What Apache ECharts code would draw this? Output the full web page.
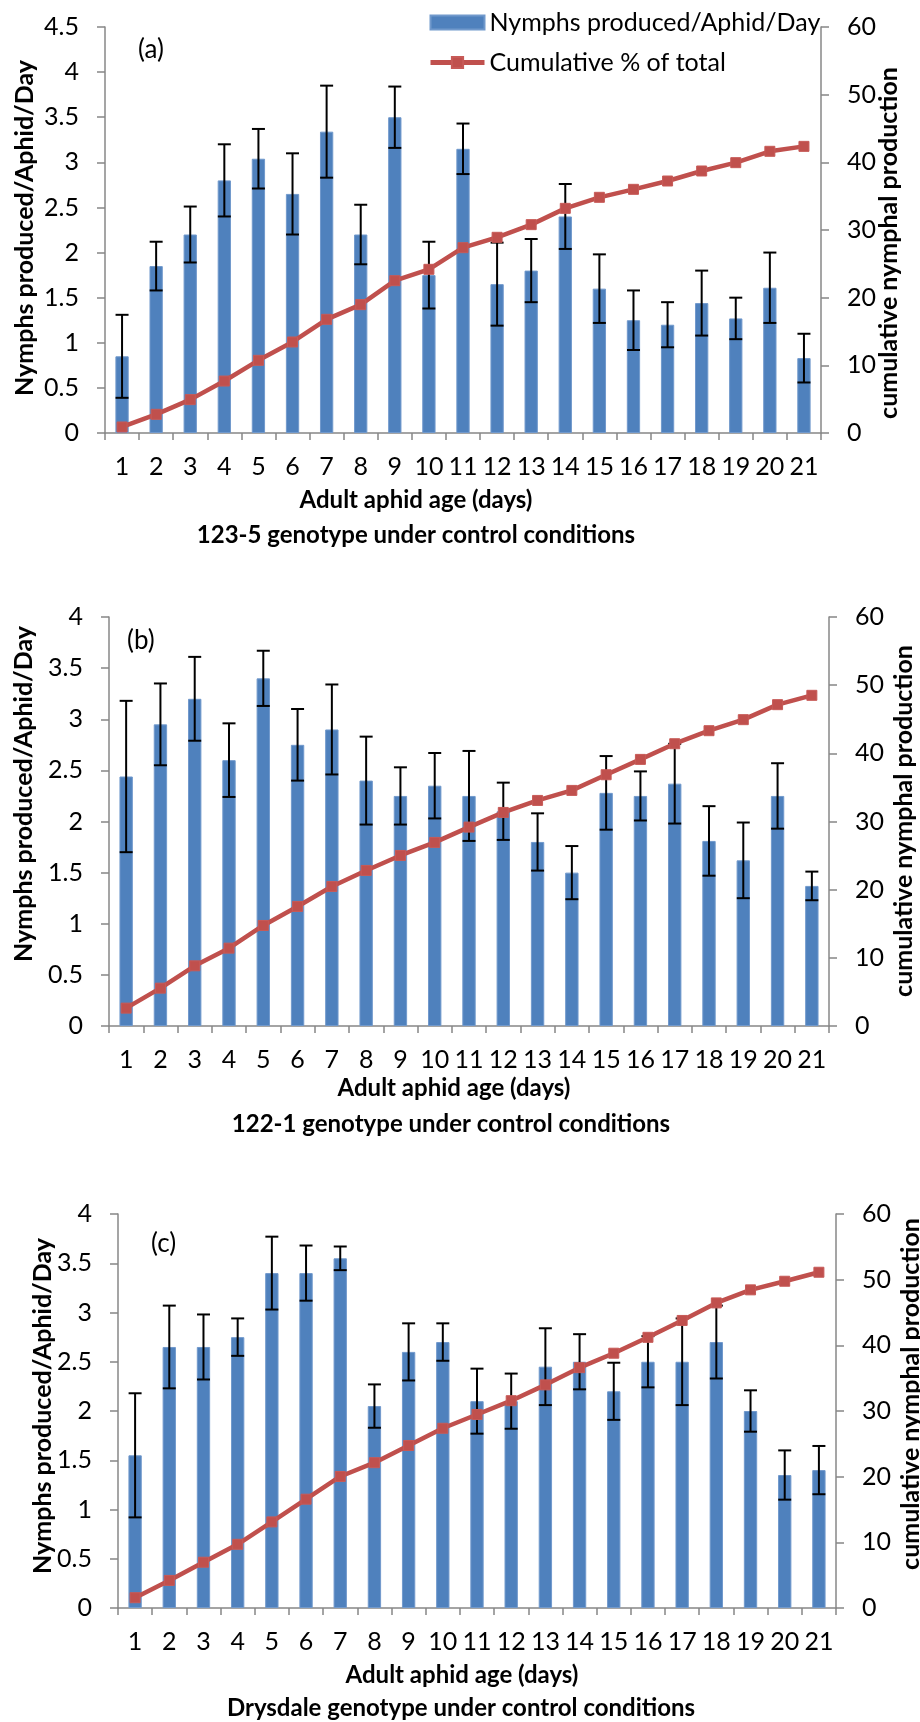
<!DOCTYPE html>
<html>
<head>
<meta charset="utf-8">
<title>Nymph production by adult aphid age</title>
<script src="https://cdn.jsdelivr.net/npm/echarts@6/dist/echarts.min.js"></script>
<style>
  html, body { margin: 0; padding: 0; background: #fff; }
  #chart { width: 920px; height: 1722px; }
</style>
</head>
<body>
<div id="chart"></div>
<script>
// Adult aphid age (days)
var days = ['1','2','3','4','5','6','7','8','9','10','11','12','13','14','15','16','17','18','19','20','21'];

// (a) 123-5 genotype: mean nymphs/aphid/day, error (±), cumulative % of total
var meanA = [0.85, 1.85, 2.20, 2.80, 3.04, 2.65, 3.34, 2.20, 3.50, 1.75, 3.15, 1.65, 1.80, 2.40, 1.60, 1.25, 1.20, 1.44, 1.27, 1.61, 0.83];
var errA  = [0.46, 0.27, 0.31, 0.40, 0.33, 0.45, 0.51, 0.33, 0.34, 0.37, 0.28, 0.46, 0.35, 0.36, 0.38, 0.33, 0.25, 0.36, 0.23, 0.39, 0.27];
var cumA  = [0.89, 2.76, 4.93, 7.68, 10.74, 13.45, 16.80, 18.97, 22.51, 24.19, 27.39, 28.92, 30.79, 33.20, 34.83, 36.01, 37.24, 38.72, 39.95, 41.63, 42.36];

// (b) 122-1 genotype
var meanB = [2.44, 2.95, 3.20, 2.60, 3.40, 2.75, 2.90, 2.40, 2.25, 2.35, 2.25, 2.10, 1.80, 1.50, 2.28, 2.25, 2.37, 1.81, 1.62, 2.25, 1.37];
var errB  = [0.74, 0.40, 0.41, 0.36, 0.27, 0.35, 0.44, 0.43, 0.28, 0.32, 0.44, 0.28, 0.28, 0.26, 0.36, 0.24, 0.39, 0.34, 0.37, 0.32, 0.14];
var cumB  = [2.62, 5.55, 8.83, 11.42, 14.75, 17.54, 20.47, 22.82, 25.02, 26.93, 29.18, 31.33, 33.09, 34.56, 36.86, 39.11, 41.41, 43.32, 44.94, 47.14, 48.51];

// (c) Drysdale genotype
var meanC = [1.55, 2.65, 2.65, 2.75, 3.40, 3.40, 3.55, 2.05, 2.60, 2.70, 2.10, 2.10, 2.45, 2.50, 2.20, 2.50, 2.50, 2.70, 2.00, 1.35, 1.40];
var errC  = [0.63, 0.42, 0.33, 0.19, 0.37, 0.28, 0.12, 0.22, 0.29, 0.19, 0.33, 0.28, 0.39, 0.28, 0.29, 0.26, 0.44, 0.37, 0.21, 0.25, 0.245];
var cumC  = [1.57, 4.20, 6.97, 9.70, 13.11, 16.57, 20.03, 22.13, 24.75, 27.37, 29.47, 31.57, 33.98, 36.60, 38.80, 41.22, 43.79, 46.46, 48.45, 49.76, 51.13];

// Left axis tops per panel, right axis shared
var leftMax = [4.5, 4, 4];
var rightMax = 60;

var BAR_NAME = 'Nymphs produced/Aphid/Day';
var LINE_NAME = 'Cumulative % of total';

var FONT = 'Lato, "Open Sans", sans-serif';
var FS = 25;          // regular text size
var AXIS_GREY = '#878787';
var BLUE = '#4F81BD';
var RED = '#C0504D';

var chart = echarts.init(document.getElementById('chart'), null, { renderer: 'canvas' });

var grids = [
  { left: 105, top: 27,   width: 716, height: 406 },
  { left: 109, top: 617,  width: 720, height: 409 },
  { left: 118, top: 1214, width: 718, height: 394 }
];

var panels = [
  { mean: meanA, err: errA, cum: cumA },
  { mean: meanB, err: errB, cum: cumB },
  { mean: meanC, err: errC, cum: cumC }
];

var xAxes = [], yAxes = [], series = [];

panels.forEach(function (p, i) {
  xAxes.push({
    type: 'category', gridIndex: i, data: days, boundaryGap: true,
    axisLine: { lineStyle: { color: AXIS_GREY, width: 1.5 } },
    axisTick: { show: true, length: 7, inside: false, lineStyle: { color: AXIS_GREY, width: 1.5 } },
    axisLabel: { interval: 0, margin: 21, color: '#000', fontFamily: FONT, fontSize: FS }
  });
  yAxes.push({
    type: 'value', gridIndex: i, position: 'left', min: 0, max: leftMax[i], interval: 0.5,
    splitLine: { show: false },
    axisLine: { show: true, lineStyle: { color: AXIS_GREY, width: 1.5 } },
    axisTick: { show: true, length: 8, lineStyle: { color: AXIS_GREY, width: 1.5 } },
    axisLabel: { margin: 26, color: '#000', fontFamily: FONT, fontSize: FS }
  });
  yAxes.push({
    type: 'value', gridIndex: i, position: 'right', min: 0, max: rightMax, interval: 10,
    splitLine: { show: false },
    axisLine: { show: true, lineStyle: { color: AXIS_GREY, width: 1.5 } },
    axisTick: { show: true, length: 8, lineStyle: { color: AXIS_GREY, width: 1.5 } },
    axisLabel: { margin: 26, color: '#000', fontFamily: FONT, fontSize: FS }
  });

  series.push({
    name: BAR_NAME, type: 'bar', xAxisIndex: i, yAxisIndex: i * 2,
    data: p.mean, barWidth: '39%', z: 2,
    itemStyle: { color: BLUE, borderColor: '#7199cc', borderWidth: 1 }
  });

  // Error bars (mean ± err) with caps
  var errData = p.mean.map(function (m, k) { return [k, m - p.err[k], m + p.err[k]]; });
  series.push({
    name: 'error', type: 'custom', xAxisIndex: i, yAxisIndex: i * 2, z: 3,
    data: errData, encode: { x: 0, y: [1, 2] },
    renderItem: function (params, api) {
      var top = api.coord([api.value(0), api.value(2)]);
      var bot = api.coord([api.value(0), api.value(1)]);
      var half = 6.5;
      var st = { stroke: '#000', lineWidth: 2 };
      return {
        type: 'group',
        children: [
          { type: 'line', shape: { x1: top[0], y1: top[1], x2: bot[0], y2: bot[1] }, style: st },
          { type: 'line', shape: { x1: top[0] - half, y1: top[1], x2: top[0] + half, y2: top[1] }, style: st },
          { type: 'line', shape: { x1: bot[0] - half, y1: bot[1], x2: bot[0] + half, y2: bot[1] }, style: st }
        ]
      };
    }
  });

  series.push({
    name: LINE_NAME, type: 'line', xAxisIndex: i, yAxisIndex: i * 2 + 1,
    data: p.cum, z: 4,
    symbol: 'rect', symbolSize: 10, showSymbol: true,
    lineStyle: { color: RED, width: 4.5 },
    itemStyle: { color: RED, borderColor: '#c75a57', borderWidth: 1 }
  });
});

function txt(x, y, text, opts) {
  opts = opts || {};
  return {
    type: 'text', x: x, y: y, rotation: opts.rot || 0, z: 10,
    style: {
      text: text,
      fill: '#000',
      font: (opts.bold ? 'bold ' : '') + (opts.size || 24) + 'px ' + FONT,
      textAlign: opts.align || 'center',
      textVerticalAlign: 'middle'
    }
  };
}

var R = Math.PI / 2;
var graphics = [
  txt(138, 50, '(a)', { align: 'left', size: 26 }),
  txt(127, 641, '(b)', { align: 'left', size: 26 }),
  txt(151, 1244, '(c)', { align: 'left', size: 26 }),

  txt(416, 500, 'Adult aphid age (days)', { bold: true }),
  txt(416, 535, '123-5 genotype under control conditions', { bold: true }),
  txt(454, 1088, 'Adult aphid age (days)', { bold: true }),
  txt(451, 1124, '122-1 genotype under control conditions', { bold: true }),
  txt(462, 1675, 'Adult aphid age (days)', { bold: true }),
  txt(461, 1708, 'Drysdale genotype under control conditions', { bold: true }),

  txt(25, 228, 'Nymphs produced/Aphid/Day', { bold: true, rot: R, size: 25 }),
  txt(24, 794, 'Nymphs produced/Aphid/Day', { bold: true, rot: R, size: 25 }),
  txt(43, 1406, 'Nymphs produced/Aphid/Day', { bold: true, rot: R, size: 25 }),

  txt(889, 243, 'cumulative nymphal production', { bold: true, rot: R, size: 25 }),
  txt(904, 821, 'cumulative nymphal production', { bold: true, rot: R, size: 25 }),
  txt(911, 1394, 'cumulative nymphal production', { bold: true, rot: R, size: 25 })
];

chart.setOption({
  animation: false,
  backgroundColor: '#fff',
  textStyle: { fontFamily: FONT },
  legend: {
    orient: 'vertical', left: 423, top: 5,
    itemWidth: 54, itemHeight: 14, itemGap: 15,
    textStyle: { color: '#000', fontFamily: FONT, fontSize: FS },
    data: [
      { name: BAR_NAME, icon: 'rect' },
      { name: LINE_NAME, lineStyle: { width: 5, color: RED }, itemStyle: { color: RED } }
    ]
  },
  grid: grids,
  xAxis: xAxes,
  yAxis: yAxes,
  series: series,
  graphic: graphics
});
</script>
</body>
</html>
